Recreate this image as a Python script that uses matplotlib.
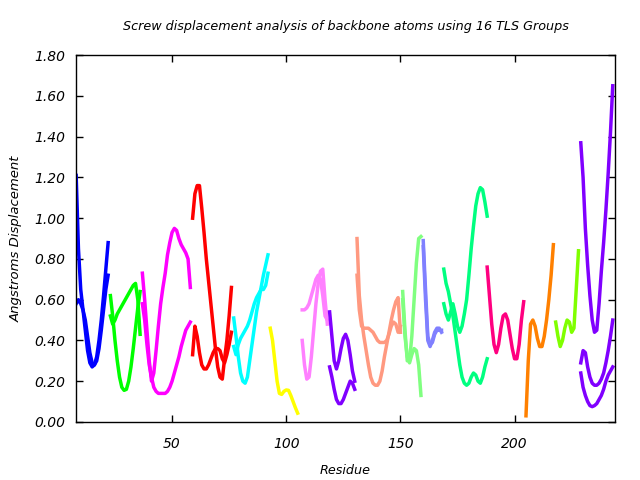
import numpy as np
import matplotlib
matplotlib.use("Agg")
import matplotlib.pyplot as plt
from matplotlib.ticker import FormatStrFormatter

# TLS group colours, in residue order
colors = ['#0000ff', '#00ff00', '#ff00ff', '#ff0000', '#00ffff', '#ffff00',
          '#ff80ff', '#8000ff', '#ff9980', '#80ff80', '#8080ff', '#00ff80',
          '#ff0080', '#ff8000', '#80ff00', '#8000ff']

# first residue of each group
starts = [8, 23, 37, 59, 77, 93, 107, 119, 131, 151, 160, 169, 188, 205, 218, 229]

# screw displacement curves per group (one or more per group)
g1 = [[1.21, 0.85, 0.65, 0.55, 0.45, 0.35, 0.29, 0.27, 0.28, 0.32, 0.40, 0.50, 0.62, 0.75, 0.88],
      [0.58, 0.60, 0.58, 0.55, 0.50, 0.42, 0.34, 0.29, 0.28, 0.30, 0.36, 0.45, 0.55, 0.65, 0.72]]
g2 = [[0.62, 0.52, 0.40, 0.30, 0.22, 0.17, 0.155, 0.16, 0.20, 0.27, 0.36, 0.46, 0.56, 0.64],
      [0.52, 0.48, 0.50, 0.53, 0.55, 0.57, 0.59, 0.61, 0.63, 0.65, 0.67, 0.68, 0.60, 0.43]]
g3 = [[0.73, 0.60, 0.45, 0.30, 0.20, 0.24, 0.35, 0.47, 0.58, 0.66, 0.73, 0.82, 0.88, 0.93,
       0.95, 0.94, 0.90, 0.87, 0.85, 0.83, 0.80, 0.66],
      [0.58, 0.50, 0.38, 0.28, 0.22, 0.17, 0.15, 0.14, 0.14, 0.14, 0.14, 0.15, 0.17, 0.20,
       0.24, 0.28, 0.32, 0.37, 0.41, 0.45, 0.47, 0.49]]
g4 = [[1.00, 1.12, 1.16, 1.16, 1.05, 0.93, 0.80, 0.69, 0.58, 0.47, 0.36, 0.27, 0.22, 0.21,
       0.31, 0.40, 0.52, 0.66],
      [0.33, 0.47, 0.42, 0.34, 0.28, 0.26, 0.26, 0.28, 0.31, 0.34, 0.36, 0.36, 0.35, 0.31,
       0.29, 0.33, 0.38, 0.44]]
g5 = [[0.51, 0.42, 0.32, 0.24, 0.20, 0.19, 0.22, 0.30, 0.38, 0.46, 0.54, 0.60, 0.66, 0.72,
       0.77, 0.82],
      [0.37, 0.33, 0.38, 0.41, 0.43, 0.45, 0.47, 0.50, 0.54, 0.58, 0.61, 0.63, 0.65, 0.65,
       0.67, 0.73]]
g6 = [[0.46, 0.40, 0.30, 0.20, 0.14, 0.135, 0.15, 0.157, 0.155, 0.13, 0.10, 0.07, 0.043]]
g7 = [[0.40, 0.28, 0.21, 0.22, 0.32, 0.45, 0.58, 0.68, 0.74, 0.75, 0.60, 0.48],
      [0.55, 0.55, 0.56, 0.58, 0.62, 0.66, 0.70, 0.72, 0.70, 0.62, 0.52, 0.50]]
g8 = [[0.54, 0.42, 0.30, 0.26, 0.30, 0.36, 0.41, 0.43, 0.40, 0.33, 0.25, 0.20],
      [0.27, 0.22, 0.16, 0.11, 0.09, 0.09, 0.11, 0.14, 0.17, 0.20, 0.19, 0.16]]
g9 = [[0.90, 0.62, 0.50, 0.42, 0.35, 0.28, 0.22, 0.19, 0.18, 0.18, 0.20, 0.25, 0.32, 0.38,
       0.44, 0.50, 0.55, 0.59, 0.61, 0.44],
      [0.72, 0.55, 0.47, 0.46, 0.46, 0.46, 0.45, 0.44, 0.42, 0.40, 0.39, 0.39, 0.39, 0.40,
       0.43, 0.47, 0.49, 0.48, 0.44, 0.47]]
g10 = [[0.64, 0.45, 0.30, 0.30, 0.42, 0.60, 0.78, 0.90, 0.91],
       [0.60, 0.42, 0.32, 0.29, 0.33, 0.36, 0.35, 0.28, 0.13]]
g11 = [[0.89, 0.65, 0.42, 0.38, 0.39, 0.43, 0.45, 0.45, 0.45],
       [0.86, 0.60, 0.40, 0.37, 0.40, 0.44, 0.46, 0.46, 0.44]]
g12 = [[0.58, 0.53, 0.50, 0.54, 0.58, 0.53, 0.47, 0.44, 0.47, 0.53, 0.60, 0.72, 0.85, 0.96,
        1.06, 1.12, 1.15, 1.14, 1.08, 1.01],
       [0.75, 0.68, 0.64, 0.58, 0.52, 0.44, 0.36, 0.28, 0.22, 0.19, 0.18, 0.19, 0.22, 0.24,
        0.23, 0.20, 0.19, 0.22, 0.27, 0.31]]
g13 = [[0.76, 0.62, 0.48, 0.38, 0.34, 0.38, 0.46, 0.52, 0.53, 0.50, 0.43, 0.36, 0.31, 0.31,
        0.38, 0.50, 0.59]]
g14 = [[0.03, 0.30, 0.48, 0.50, 0.47, 0.41, 0.37, 0.37, 0.42, 0.50, 0.60, 0.72, 0.87]]
g15 = [[0.49, 0.42, 0.37, 0.40, 0.46, 0.50, 0.49, 0.44, 0.46, 0.65, 0.84]]
g16 = [[1.37, 1.20, 0.95, 0.77, 0.62, 0.50, 0.44, 0.45, 0.58, 0.74, 0.88, 1.04, 1.22, 1.42, 1.65],
       [0.29, 0.35, 0.34, 0.27, 0.22, 0.19, 0.18, 0.18, 0.19, 0.21, 0.24, 0.29, 0.35, 0.42, 0.50],
       [0.24, 0.17, 0.13, 0.10, 0.08, 0.075, 0.08, 0.09, 0.11, 0.13, 0.16, 0.20, 0.23, 0.25, 0.27]]

groups = [g1, g2, g3, g4, g5, g6, g7, g8, g9, g10, g11, g12, g13, g14, g15, g16]

plt.rcParams['font.family'] = 'DejaVu Sans'
plt.rcParams['font.style'] = 'italic'

fig = plt.figure(figsize=(6.4, 4.8), dpi=100)
ax = fig.add_axes([0.119, 0.121, 0.842, 0.764])

for col, start, curves in zip(colors, starts, groups):
    for vals in curves:
        res = np.arange(start, start + len(vals))
        ax.plot(res, vals, color=col, linewidth=2.5, solid_joinstyle='round')

ax.set_xlim(8, 244)
ax.set_ylim(0, 1.8)
ax.set_xticks([50, 100, 150, 200])
ax.set_yticks(np.arange(0, 1.81, 0.2))
ax.yaxis.set_major_formatter(FormatStrFormatter('%.2f'))
ax.tick_params(direction='in', top=True, right=True, length=5, width=1, labelsize=10)
ax.tick_params(axis='x', pad=11)
ax.tick_params(axis='y', pad=8)
for s in ax.spines.values():
    s.set_linewidth(1)

ax.set_title('Screw displacement analysis of backbone atoms using 16 TLS Groups',
             fontsize=9.2, pad=18)
ax.set_xlabel('Residue', fontsize=9.2, labelpad=9)
ax.set_ylabel('Angstroms Displacement', fontsize=9.5, labelpad=8)

fig.savefig('out.png', dpi=100)
